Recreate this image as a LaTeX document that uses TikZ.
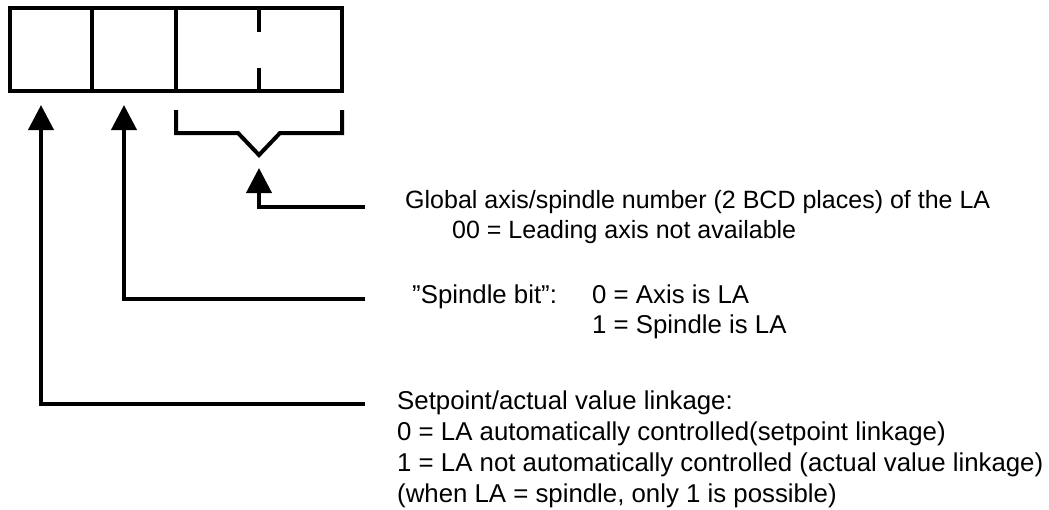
\documentclass[tikz,border=0pt]{standalone}
\usepackage{fontspec}
\setmainfont{Liberation Sans}
\usetikzlibrary{arrows.meta, positioning}
\tikzset{
	thickline/.style={line width=4pt}
}
\tikzset{
	labeltext/.style={anchor=base west, inner sep=0pt, font=\fontsize{25.8}{30}\selectfont}
}

\begin{document}
\begin{tikzpicture}[x=1pt, y=-1pt, >={Triangle[length=25pt,width=25pt]}]
  \useasboundingbox (0,0) rectangle (1049,509);
  % register with four places
  \draw[thickline] (10,8) rectangle (342,91);
  \foreach \x in {92,176}
    \draw[thickline] (\x,8) -- (\x,91);
  \draw[thickline] (259,8) -- (259,32) (259,68) -- (259,91);
  % brace under the two BCD places
  \draw[thickline] (176,110) |- (238,133) -- (259,155) -- (280,133) -| (342,110);
  % texts
  \node[labeltext, font=\fontsize{25}{30}\selectfont] (glob) at (405,208) {Global axis/spindle number (2 BCD places) of the LA};
  \node[labeltext, font=\fontsize{25}{30}\selectfont] (glob0) at (452,238) {00 = Leading axis not available};
  \node[labeltext] (spbit) at (412,303) {”Spindle bit”:};
  \node[labeltext] (spbit0) at (592,303) {0 = Axis is LA};
  \node[labeltext] (spbit1) at (592,333) {1 = Spindle is LA};
  \node[labeltext] (link) at (397,409) {Setpoint/actual value linkage:};
  \node[labeltext] (link0) at (397,440) {0 = LA automatically controlled(setpoint linkage)};
  \node[labeltext] (link1) at (397,471) {1 = LA not automatically controlled (actual value linkage)};
  \node[labeltext] (link2) at (397,502) {(when LA = spindle, only 1 is possible)};
  % leaders from the texts to the places
  \coordinate (tipa) at (41,105);
  \coordinate (tipb) at (124,105);
  \coordinate (tipc) at (259,168);
  \coordinate (enda) at (365,403.5);
  \coordinate (endb) at (365,299);
  \coordinate (endc) at (365,207);
  \draw[thickline,->] (enda) -| (tipa);
  \draw[thickline,->] (endb) -| (tipb);
  \draw[thickline,->] (endc) -| (tipc);
\end{tikzpicture}
\end{document}
